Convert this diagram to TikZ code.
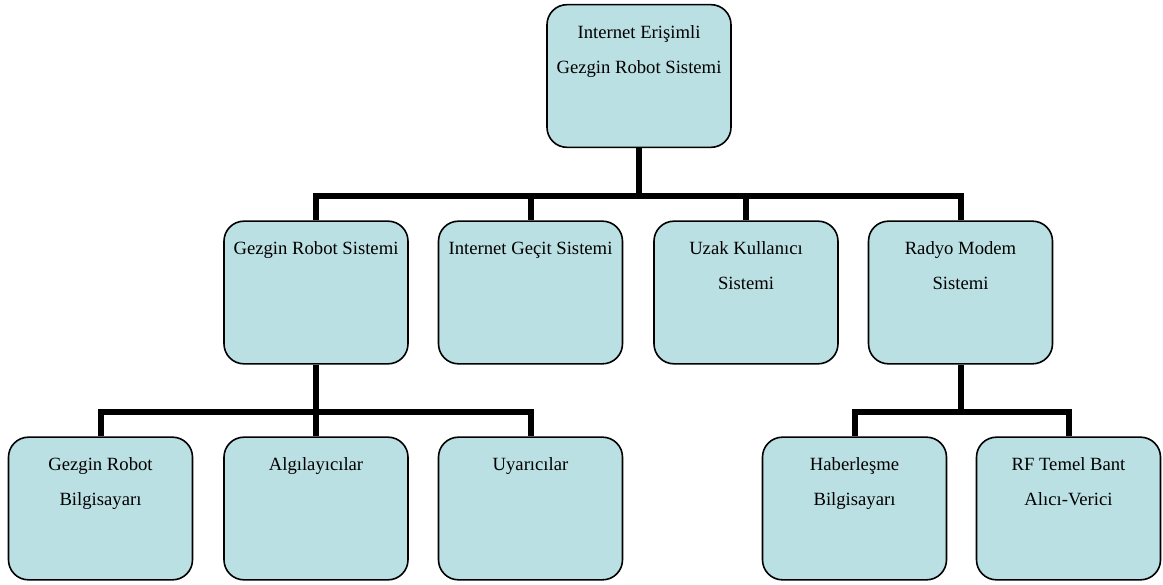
\documentclass[tikz,border=0pt]{standalone}
\usepackage{fontspec}
\setmainfont{Liberation Serif}
\usetikzlibrary{calc}
\definecolor{kutu}{RGB}{187,224,227}

\begin{document}
\begin{tikzpicture}[x=0.75pt,y=-0.75pt,
    box/.style={draw,line width=1.2pt,rounded corners=15pt,fill=kutu,
        minimum width=138pt,minimum height=107pt,inner sep=0pt},
    lbl/.style={anchor=north,align=center,inner sep=0pt,yshift=-16pt,
        font=\fontsize{14}{26.3}\selectfont},
    conn/.style={line width=4.5pt}]
    \useasboundingbox (0,0) rectangle (1163,585);
    \node[box,label={[lbl]north:{Internet Erişimli\\Gezgin Robot Sistemi}}] (root) at (639,76) {};
    \node[box,label={[lbl]north:{Gezgin Robot Sistemi}}] (grs) at (316,292.5) {};
    \node[box,label={[lbl]north:{Internet Geçit Sistemi}}] (igs) at (530.5,292.5) {};
    \node[box,label={[lbl]north:{Uzak Kullanıcı\\Sistemi}}] (uks) at (746,292.5) {};
    \node[box,label={[lbl]north:{Radyo Modem\\Sistemi}}] (rms) at (960.5,292.5) {};
    \node[box,label={[lbl]north:{Gezgin Robot\\Bilgisayarı}}] (grb) at (100.5,508.5) {};
    \node[box,label={[lbl]north:{Algılayıcılar}}] (alg) at (316,508.5) {};
    \node[box,label={[lbl]north:{Uyarıcılar}}] (uya) at (530.5,508.5) {};
    \node[box,label={[lbl]north:{Haberleşme\\Bilgisayarı}}] (hab) at (854.5,508.5) {};
    \node[box,label={[lbl]north:{RF Temel Bant\\Alıcı-Verici}}] (rf) at (1068.5,508.5) {};
    \coordinate (b1) at (639,196);
    \coordinate (b2) at (316,412);
    \coordinate (b3) at (960.5,412);
    \draw[conn] (root.south) -- (b1);
    \draw[conn] (b1) -| (grs.north);
    \draw[conn] (b1) -| (igs.north);
    \draw[conn] (b1) -| (uks.north);
    \draw[conn] (b1) -| (rms.north);
    \draw[conn] (grs.south) -- (b2);
    \draw[conn] (b2) -| (grb.north);
    \draw[conn] (b2) -| (alg.north);
    \draw[conn] (b2) -| (uya.north);
    \draw[conn] (rms.south) -- (b3);
    \draw[conn] (b3) -| (hab.north);
    \draw[conn] (b3) -| (rf.north);
\end{tikzpicture}
\end{document}
